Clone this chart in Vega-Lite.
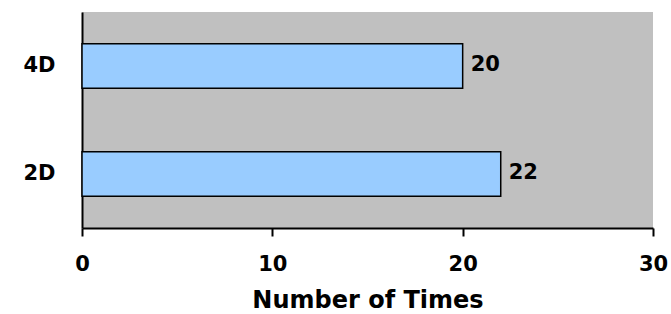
{
  "$schema": "https://vega.github.io/schema/vega-lite/v6.json",
  "width": 571,
  "height": 216,
  "autosize": "none",
  "padding": {"left": 82, "top": 12, "right": 18, "bottom": 86},
  "background": "white",
  "config": {
    "view": {"fill": "#C0C0C0", "stroke": null},
    "font": "DejaVu Sans"
  },
  "data": {
    "values": [
      {"Type": "4D", "Count": 20},
      {"Type": "2D", "Count": 22}
    ]
  },
  "encoding": {
    "y": {
      "field": "Type",
      "type": "nominal",
      "sort": ["4D", "2D"],
      "scale": {"paddingInner": 0.59, "paddingOuter": 0.295},
      "axis": {
        "title": null,
        "domainColor": "#000000",
        "domainWidth": 2,
        "ticks": false,
        "grid": false,
        "labelFont": "DejaVu Sans",
        "labelFontWeight": "bold",
        "labelFontSize": 21,
        "labelColor": "#000000",
        "labelPadding": 27,
        "labelAlign": "right"
      }
    },
    "x": {
      "field": "Count",
      "type": "quantitative",
      "scale": {"domain": [0, 30], "nice": false},
      "axis": {
        "title": "Number of Times",
        "values": [0, 10, 20, 30],
        "grid": false,
        "domainColor": "#000000",
        "domainWidth": 2,
        "tickColor": "#000000",
        "tickWidth": 2,
        "tickSize": 8,
        "labelFont": "DejaVu Sans",
        "labelFontWeight": "bold",
        "labelFontSize": 21,
        "labelColor": "#000000",
        "labelPadding": 17,
        "labelFlush": false,
        "titleFont": "DejaVu Sans",
        "titleFontWeight": "bold",
        "titleFontSize": 24,
        "titleColor": "#000000",
        "titlePadding": 14
      }
    }
  },
  "layer": [
    {
      "mark": {"type": "bar", "fill": "#99CCFF", "stroke": "#000000", "strokeWidth": 1.5}
    },
    {
      "mark": {"type": "text", "align": "left", "baseline": "middle", "dx": 8, "dy": -1, "font": "DejaVu Sans", "fontWeight": "bold", "fontSize": 21, "color": "#000000"},
      "encoding": {"text": {"field": "Count", "type": "quantitative"}}
    }
  ]
}
